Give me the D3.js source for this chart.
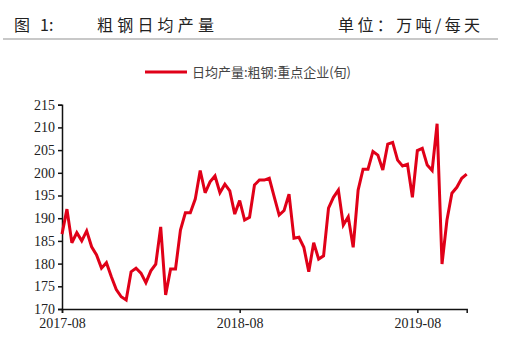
<!DOCTYPE html>
<html><head><meta charset="utf-8">
<script src="https://cdn.jsdelivr.net/npm/d3@7"></script>
<style>body{margin:0;background:#fff;}svg{display:block;}</style>
</head><body>
<script>
// Data: crude steel daily output, key enterprises (per dekad), 10k tonnes/day
const values = [186.5,192.0,184.6,186.8,185.0,187.2,183.7,181.9,179.0,180.2,
177.1,174.3,172.7,172.0,178.2,179.0,177.9,175.8,178.4,179.9,
188.1,173.1,178.8,178.8,187.4,191.2,191.2,194.2,200.5,195.6,
198.0,199.3,195.6,197.5,196.0,190.9,193.9,189.6,190.2,197.3,
198.4,198.4,198.8,194.7,190.7,191.7,195.3,185.6,185.8,183.6,
178.2,184.6,181.0,181.7,192.2,194.6,196.2,188.5,190.3,183.6,
196.2,200.8,200.8,204.7,203.9,200.6,206.3,206.7,202.8,201.5,
201.9,194.6,204.9,205.4,201.7,200.5,210.8,179.9,189.6,195.5,
196.8,198.8,199.7];
const dekadNames = ["上","中","下"];
const categories = values.map((v,i)=>{
  const m = 7 + Math.floor(i/3);
  const y = 2017 + Math.floor(m/12);
  return y + "-" + String(m%12+1).padStart(2,"0") + dekadNames[i%3];
});
const xTickLabels = ["2017-08","2018-08","2019-08"];
const xTickCats = ["2017-08上","2018-08上","2019-08上"];
const yTicks = [170,175,180,185,190,195,200,205,210,215];
const seriesName = "日均产量:粗钢:重点企业(旬)";

const W=519,H=353;
const svg = d3.select("body").append("svg").attr("width",W).attr("height",H);

// header
const cjk = "'Noto Sans CJK SC', sans-serif";
svg.append("text").attr("x",14).attr("y",31).attr("font-family",cjk).attr("font-size",16)
  .attr("fill","#222").text("图");
svg.append("text").attr("x",40).attr("y",31).attr("font-family",cjk).attr("font-size",16)
  .attr("fill","#222").text("1:");
svg.append("text").attr("x",97).attr("y",31).attr("font-family",cjk).attr("font-size",16)
  .attr("letter-spacing",4.2).attr("fill","#222").text("粗钢日均产量");
svg.append("text").attr("x",338).attr("y",31).attr("font-family",cjk).attr("font-size",16)
  .attr("letter-spacing",3.4).attr("fill","#222").text("单位：万吨/每天");
svg.append("line").attr("x1",3).attr("x2",498).attr("y1",39).attr("y2",39)
  .attr("stroke","#c8c8c8").attr("stroke-width",2);

const x = d3.scalePoint().domain(categories).range([62,466.7]);
const y = d3.scaleLinear().domain([170,215]).range([309,104.7]);

// legend
svg.append("line").attr("x1",145).attr("x2",187).attr("y1",72).attr("y2",72)
  .attr("stroke","#e00018").attr("stroke-width",3);
svg.append("text").attr("x",192).attr("y",76.5).attr("font-family",cjk).attr("font-size",13)
  .attr("fill","#444").text(seriesName);

const serif = "'Liberation Serif', 'DejaVu Serif', serif";
const yAxis = svg.append("g").attr("transform","translate(62,0)")
  .call(d3.axisLeft(y).tickValues(yTicks).tickSize(4).tickPadding(3));
yAxis.select(".domain").attr("stroke","#111").attr("stroke-width",1.5);
yAxis.selectAll(".tick line").attr("stroke","#111").attr("stroke-width",1.5);
yAxis.selectAll("text").attr("font-family",serif).attr("font-size",14).attr("fill","#222");

const xAxis = svg.append("g").attr("transform","translate(0,309)")
  .call(d3.axisBottom(x).tickValues(xTickCats).tickSize(4).tickPadding(5)
    .tickFormat(d=>xTickLabels[xTickCats.indexOf(d)]));
xAxis.select(".domain").attr("stroke","#111").attr("stroke-width",1.5);
xAxis.selectAll(".tick line").attr("stroke","#111").attr("stroke-width",1.5);
xAxis.selectAll("text").attr("font-family",serif).attr("font-size",14).attr("fill","#222");

svg.append("path").datum(values)
  .attr("fill","none").attr("stroke","#e00018").attr("stroke-width",3)
  .attr("stroke-linejoin","miter").attr("stroke-miterlimit",3)
  .attr("d", d3.line().x((d,i)=>x(categories[i])).y(d=>y(d)));
</script>
</body></html>
